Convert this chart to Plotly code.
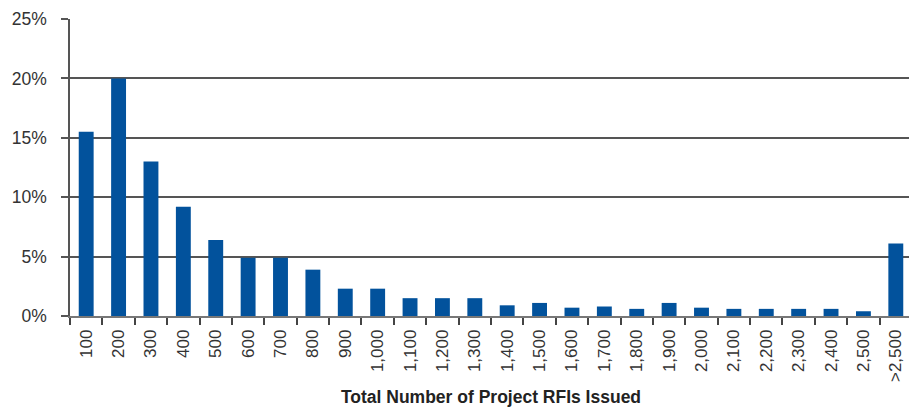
import plotly.graph_objects as go

# categories (RFI count buckets) and share of projects, in %
categories = ["100", "200", "300", "400", "500", "600", "700", "800", "900",
              "1,000", "1,100", "1,200", "1,300", "1,400", "1,500", "1,600",
              "1,700", "1,800", "1,900", "2,000", "2,100", "2,200", "2,300",
              "2,400", "2,500", ">2,500"]
share_pct = [15.5, 20.0, 13.0, 9.2, 6.4, 4.9, 4.9, 3.9, 2.3,
             2.3, 1.5, 1.5, 1.5, 0.9, 1.1, 0.7,
             0.8, 0.6, 1.1, 0.7, 0.6, 0.6, 0.6,
             0.6, 0.4, 6.1]
y_ticks = [0, 5, 10, 15, 20, 25]
y_labels = ["0%", "5%", "10%", "15%", "20%", "25%"]

font_fam = "Liberation Sans, Arial, sans-serif"

fig = go.Figure(go.Bar(x=categories, y=share_pct, marker_color="#02529C",
                       marker_line_width=0))

# page body has an 8px margin, so the figure is sized a bit smaller
fig.update_layout(
    width=909, height=402,
    margin=dict(l=62, r=5, t=11, b=94),
    paper_bgcolor="white", plot_bgcolor="white",
    bargap=0.54,
    showlegend=False,
    font=dict(family=font_fam, color="#333333"),
)
fig.update_xaxes(
    type="category",
    automargin=False,
    tickangle=-90,
    tickfont=dict(size=17, color="#333333"),
    ticks="outside", ticklen=7, tickcolor="#444444", tickwidth=1.5,
    tickson="boundaries",
    ticklabelstandoff=5,
    showline=True, linecolor="#777777", linewidth=1.5,
    showgrid=False,
    title=dict(text="<b>Total Number of Project RFIs Issued</b>",
               font=dict(size=17.5, color="#222222"), standoff=10),
)
fig.update_yaxes(
    range=[0, 25],
    automargin=False,
    tickmode="array", tickvals=y_ticks, ticktext=y_labels,
    tickfont=dict(size=17.5, color="#333333"),
    ticks="outside", ticklen=7, tickcolor="#555555", tickwidth=1.5,
    ticklabelstandoff=11,
    showline=True, linecolor="#555555", linewidth=1.5,
    showgrid=True, gridcolor="#555555", gridwidth=1.5,
    zeroline=False,
)

fig.write_html("out.html")
